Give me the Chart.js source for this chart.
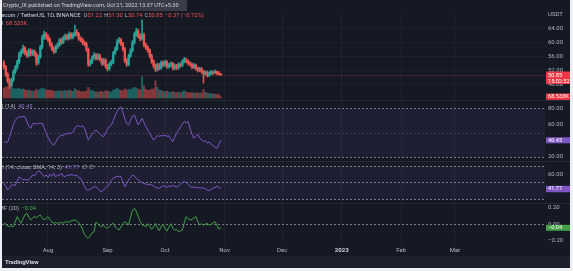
<!DOCTYPE html>
<html><head><meta charset="utf-8">
<script src="https://cdn.jsdelivr.net/npm/chart.js@4.4.0/dist/chart.umd.min.js"></script>
<style>
html,body{margin:0;padding:0;background:#eef0f3;width:573px;height:271px;overflow:hidden}
#wrap{position:absolute;left:2px;top:0;width:568px;height:268px;background:#151924;overflow:hidden}
canvas{position:absolute;left:0}
</style></head><body>
<div id="wrap">
<canvas id="c1" width="568" height="100" style="top:0"></canvas>
<canvas id="c2" width="568" height="61" style="top:100px"></canvas>
<canvas id="c3" width="568" height="42" style="top:161px"></canvas>
<canvas id="c4" width="568" height="65" style="top:203px"></canvas>
</div>
<script>
// ---------------- DATA ----------------
const symbolName = 'Litecoin / TetherUS, 1D, BINANCE';
const headerText = 'Crypto_IX published on TradingView.com, Oct 21, 2022 13:37 UTC+5:30';
const countdown = '15:02:52';
const startDate = '2022-07-09';
const timeLabels = ['Aug','Sep','Oct','Nov','Dec','2023','Feb','Mar'];
const timeTickDates = ['2022-08-01','2022-09-01','2022-10-01','2022-11-01','2022-12-01','2023-01-01','2023-02-01','2023-03-01'];
const priceTicks = [64, 60, 56, 52, 48];
const rsiTicks = [80, 60, 40, 20];
const rviTicks = [60, 40];
const cmfTicks = [0.2, 0, -0.2];
const rsiBands = [80, 50, 20];
const rviBands = [70, 50, 30];

const open = [54.3,53.2,51.0,49.2,47.9,49.5,51.8,53.0,54.6,56.8,
57.5,58.6,57.2,56.4,57.8,56.9,57.6,56.8,54.3,56.0,
58.8,61.5,62.6,61.8,61.0,59.6,58.4,57.6,58.9,59.5,
60.8,60.2,61.4,62.0,61.3,62.5,61.7,62.3,63.1,62.6,
61.2,61.0,60.1,59.8,58.2,53.9,54.6,55.8,56.6,55.7,
56.4,55.3,54.2,55.1,53.4,52.6,54.0,54.5,57.1,58.3,
60.4,60.9,59.8,58.3,55.0,53.9,56.3,57.8,60.1,62.4,
63.4,62.0,61.2,62.3,59.4,58.7,57.9,56.3,54.8,53.5,
52.4,53.8,52.9,54.4,53.8,54.6,53.2,53.7,54.1,52.8,
53.5,52.9,53.9,53.6,54.7,55.3,54.8,54.2,53.9,53.1,
53.6,52.7,52.2,52.6,51.8,51.2,51.6,50.8,51.3,51.7,
51.5,51.8,51.4,51.22];
const close = [53.2,51.0,49.2,47.9,49.5,51.8,53.0,54.6,56.8,57.5,
58.6,57.2,56.4,57.8,56.9,57.6,56.8,54.3,56.0,58.8,
61.5,62.6,61.8,61.0,59.6,58.4,57.6,58.9,59.5,60.8,
60.2,61.4,62.0,61.3,62.5,61.7,62.3,63.1,62.6,61.2,
61.0,60.1,59.8,58.2,53.9,54.6,55.8,56.6,55.7,56.4,
55.3,54.2,55.1,53.4,52.6,54.0,54.5,57.1,58.3,60.4,
60.9,59.8,58.3,55.0,53.9,56.3,57.8,60.1,62.4,63.4,
62.0,61.2,62.3,59.4,58.7,57.9,56.3,54.8,53.5,52.4,
53.8,52.9,54.4,53.8,54.6,53.2,53.7,54.1,52.8,53.5,
52.9,53.9,53.6,54.7,55.3,54.8,54.2,53.9,53.1,53.6,
52.7,52.2,52.6,51.8,51.2,51.6,50.8,51.3,51.7,51.5,
51.8,51.4,51.22,50.85];
const high = [55.0,53.6,51.5,49.8,50.0,52.3,53.6,55.1,57.4,58.2,
59.4,59.0,57.8,58.4,58.3,58.1,58.0,57.2,56.5,59.3,
62.2,63.4,63.0,62.4,61.5,60.1,58.9,59.4,60.1,61.3,
61.4,62.0,62.6,62.5,63.2,63.0,62.9,65.1,63.8,63.0,
61.8,61.4,60.6,60.2,58.6,55.2,56.3,57.2,57.0,57.0,
56.8,55.7,55.6,55.5,53.9,54.5,55.1,57.6,58.9,61.0,
61.6,61.3,60.2,58.7,55.5,56.8,58.4,60.7,63.0,64.2,
63.9,62.6,66.6,62.8,60.0,59.2,58.3,56.8,55.2,54.0,
54.3,54.2,54.9,54.8,55.1,55.0,54.2,54.6,54.5,54.0,
53.9,54.4,54.3,55.2,55.9,55.7,55.2,54.6,54.3,54.1,
54.0,53.1,53.1,53.0,52.2,52.1,52.0,51.8,52.2,52.0,
52.3,52.0,51.8,51.30];
const low = [52.6,50.4,48.6,47.1,47.4,49.0,51.2,52.5,54.0,56.1,
57.0,56.6,55.8,56.0,56.3,56.4,56.2,53.6,53.9,55.6,
58.3,61.0,61.1,60.4,59.0,57.8,57.0,57.2,58.4,59.0,
59.6,59.8,60.9,60.8,60.9,61.2,61.2,61.9,62.0,60.7,
60.4,59.5,59.2,57.6,53.3,53.4,54.1,55.3,55.1,55.2,
54.8,53.6,53.7,52.8,52.0,52.2,53.5,54.1,56.7,57.9,
59.9,59.2,57.7,54.4,53.3,53.5,55.9,57.4,59.7,61.9,
61.4,60.6,60.8,58.9,58.1,57.3,55.8,54.2,52.9,51.8,
52.0,52.3,52.5,53.2,53.3,52.7,52.8,53.2,52.3,52.4,
52.4,52.5,53.1,53.2,54.3,54.3,53.7,53.4,52.6,52.7,
52.2,51.7,51.8,51.3,48.6,50.8,50.3,50.4,50.9,51.0,
51.2,50.9,50.9,50.74];
const volume = [520,560,610,650,540,500,470,480,520,450,
470,430,390,410,380,360,370,450,400,470,
520,480,430,400,420,390,370,340,360,390,
350,380,400,360,420,380,350,480,400,380,
330,340,320,370,560,420,380,350,320,300,
330,350,310,380,360,340,300,420,450,520,
440,400,380,480,420,460,430,500,560,520,
470,420,1120,620,450,400,420,460,480,900,
560,420,400,350,330,360,300,290,340,300,
280,310,270,330,380,300,280,260,290,250,
270,260,240,280,450,300,270,240,220,200,
210,190,180,68.533];
const rsi = [38.8,37.9,38.5,45.2,52.6,59.8,64.9,68.0,69.3,68.6,
69.8,69.4,63.0,57.8,55.1,60.7,61.2,60.4,61.6,60.9,
61.3,56.0,49.5,44.1,39.6,36.2,34.7,38.3,42.6,45.1,
47.0,45.9,48.8,48.2,49.6,48.7,50.1,55.4,58.0,58.3,
56.9,58.6,55.2,48.3,40.8,44.6,48.2,51.4,53.0,50.7,
48.3,46.1,44.9,49.5,53.8,57.3,59.2,64.5,70.3,76.1,
79.4,81.6,75.2,67.3,61.0,59.2,64.8,69.7,71.4,65.3,
59.2,63.0,67.4,62.1,57.3,53.0,49.0,44.6,40.8,43.5,
46.1,45.4,46.3,45.8,46.7,45.2,46.0,42.3,38.8,44.2,
49.1,53.0,56.8,60.7,63.3,61.9,63.5,55.2,47.6,42.9,
45.8,47.8,43.1,41.4,38.8,40.2,36.9,38.5,35.5,34.1,
31.9,30.6,35.8,40.45];
const rvi = [48.7,45.1,40.6,43.3,46.5,46.9,46.2,51.6,56.8,54.7,
52.8,53.7,52.6,53.0,55.7,58.8,58.2,61.0,63.7,62.8,
59.3,56.8,58.9,55.8,59.7,57.4,60.6,56.4,59.1,58.1,
61.2,57.4,56.9,58.8,58.4,59.3,58.8,57.7,58.7,55.6,
54.7,50.1,45.1,41.1,40.6,41.5,43.0,44.4,44.6,41.7,
39.6,38.6,40.7,43.2,44.6,48.4,52.1,55.2,56.3,56.8,
57.4,56.8,50.7,44.6,48.6,52.8,55.9,58.8,57.6,54.7,
52.6,51.1,49.5,48.7,47.8,47.0,47.5,46.7,45.5,43.8,
43.1,42.6,44.3,45.9,44.7,44.0,45.7,44.7,46.2,45.1,
44.2,45.4,47.6,49.5,50.7,49.7,47.6,45.3,43.6,44.4,
43.2,44.0,42.7,43.6,42.8,41.9,40.3,39.8,41.5,43.0,
43.8,45.0,44.3,41.77];
const cmf = [0.015,0.005,-0.020,-0.026,-0.018,-0.026,0.040,0.095,0.050,0.015,
0.070,0.120,0.136,0.090,0.055,0.078,0.095,0.082,0.100,0.115,
0.080,0.055,0.072,0.095,0.060,0.030,0.018,0.025,0.010,0.028,
0.015,0.022,0.030,0.034,0.028,0.045,0.050,0.055,0.040,0.020,
-0.006,-0.060,-0.120,-0.148,-0.167,-0.140,-0.100,-0.087,0.030,0.005,
-0.015,-0.026,-0.010,-0.035,-0.046,-0.020,0.000,0.015,-0.030,-0.050,
-0.067,-0.030,0.010,0.034,0.015,-0.006,0.090,0.170,0.196,0.160,
0.095,0.040,-0.006,-0.010,-0.030,0.010,-0.020,-0.060,-0.030,0.015,
-0.040,-0.075,-0.020,0.005,-0.050,-0.080,-0.030,0.010,-0.045,-0.070,
-0.060,-0.087,-0.080,-0.067,0.020,0.095,0.070,0.055,0.060,0.080,
0.095,0.040,-0.006,0.010,-0.010,0.005,0.012,-0.008,0.003,0.020,
0.034,-0.010,-0.055,-0.040];

// ---------------- VIEW / STYLE ----------------
const FONT = 'Roboto, "Liberation Sans", Arial, sans-serif';
const AXIS_W = 25;
const X_RANGE = { min: -0.96, max: 281.9 };
const PRICE_RANGE = { min: 43.71, max: 68.857 };
const VOL_RANGE = { min: -105, max: 4505 };
const RSI_RANGE = { min: 15.1, max: 89.8 };
const RVI_RANGE = { min: 24.85, max: 75.76 };
const CMF_RANGE = { min: -0.2485, max: 0.2606 };
const UP = '#26a69a', DOWN = '#ef5350';
const PURPLE = '#7e57c2', GREEN = '#43a047', TXT = '#b2b5be';

const START_UTC = Date.parse(startDate + 'T00:00:00Z');
const tickIdx = timeTickDates.map(d => (Date.parse(d + 'T00:00:00Z') - START_UTC) / 864e5);
const last = close.length - 1;
const candleColors = close.map((c, i) => c >= open[i] ? UP : DOWN);
const volColors = close.map((c, i) => c >= open[i] ? 'rgba(38,166,154,0.5)' : 'rgba(239,83,80,0.5)');
const minus = s => s.replace('-', '\u2212');

function xScale(show) {
  return {
    type: 'linear', min: X_RANGE.min, max: X_RANGE.max, offset: false,
    grid: { display: true, color: 'rgba(255,255,255,0.045)', drawTicks: false, offset: false },
    border: { display: false },
    ticks: { display: show, autoSkip: false, maxRotation: 0, padding: 2, color: c => c.index === 5 ? '#d1d4dc' : TXT,
      font: c => ({ family: FONT, size: 6, weight: c.index === 5 ? 'bold' : 'normal' }),
      callback: (v, i) => timeLabels[i] },
    afterBuildTicks: s => { s.ticks = tickIdx.map(v => ({ value: v })); },
    afterFit: s => { s.height = show ? 11 : 0; s.paddingLeft = 0; s.paddingRight = 0; }
  };
}
function yScale(range, ticks, gridOn) {
  return {
    type: 'linear', position: 'right', min: range.min, max: range.max,
    grid: { display: gridOn, color: 'rgba(255,255,255,0.03)', drawTicks: false },
    border: { display: false },
    ticks: { padding: 3, color: TXT, font: { family: FONT, size: 6 }, callback: v => minus(v.toFixed(2)) },
    afterBuildTicks: s => { s.ticks = ticks.map(v => ({ value: v })); },
    afterFit: s => { s.width = AXIS_W; s.paddingTop = 0; s.paddingBottom = 0; }
  };
}
function baseOpts(extra) {
  return Object.assign({
    responsive: false, maintainAspectRatio: false, animation: false, devicePixelRatio: 1,
    events: [],
    plugins: { legend: { display: false }, tooltip: { enabled: false } }
  }, extra);
}
function text(ctx, s, x, y, color, size, weight) {
  ctx.font = (weight || 'normal') + ' ' + size + 'px ' + FONT;
  ctx.fillStyle = color; ctx.textBaseline = 'middle'; ctx.textAlign = 'left';
  ctx.fillText(s, x, y);
  return x + ctx.measureText(s).width;
}
function row(ctx, parts, x, y, size) {
  for (const [s, c, gap] of parts) x = text(ctx, s, x, y, c, size) + (gap || 0);
}
function hline(ctx, a, y, color, dash) {
  ctx.save(); ctx.strokeStyle = color; ctx.lineWidth = 1; ctx.setLineDash(dash);
  const yy = Math.round(y) + 0.5;
  ctx.beginPath(); ctx.moveTo(a.left, yy); ctx.lineTo(a.right, yy); ctx.stroke(); ctx.restore();
}
function tag(ctx, a, yc, h, color, lines) {
  ctx.fillStyle = color;
  ctx.fillRect(a.right + 1, yc - h / 2, 24, h);
  lines.forEach((s, k) => text(ctx, s, a.right + 3, yc + (k - (lines.length - 1) / 2) * 5.8, '#ffffff', 5.6));
}
function band(ctx, a, scale, hi, lo) {
  const y1 = scale.getPixelForValue(hi), y2 = scale.getPixelForValue(lo);
  ctx.fillStyle = 'rgba(126,87,194,0.10)';
  ctx.fillRect(a.left, y1, a.right - a.left, y2 - y1);
}
function separator(ctx) { ctx.fillStyle = '#262a35'; ctx.fillRect(0, 0, 568, 1); }
const LEG_X = -7;

// ---------------- PRICE + VOLUME ----------------
const pricePlugin = {
  id: 'pricePane',
  beforeDatasetsDraw(chart) {
    const { ctx, chartArea: a, scales: { y } } = chart;
    hline(ctx, a, y.getPixelForValue(close[last]), 'rgba(239,83,80,0.5)', [1, 1.5]);
  },
  afterDraw(chart) {
    const { ctx, chartArea: a, scales: { y, yv } } = chart;
    ctx.fillStyle = '#393c47'; ctx.fillRect(0, 0, 185, 11);
    ctx.font = '10px ' + FONT;
    const hs = 10 * 176 / ctx.measureText(headerText).width;
    text(ctx, headerText, 1, 5.5, '#d1d4dc', hs);
    const chg = close[last] - close[last - 1];
    const pct = chg / close[last - 1] * 100;
    const red = DOWN;
    row(ctx, [
      [symbolName, '#d1d4dc', 3],
      ['O', TXT], [open[last].toFixed(2), red, 2],
      ['H', TXT], [high[last].toFixed(2), red, 2],
      ['L', TXT], [low[last].toFixed(2), red, 2],
      ['C', TXT], [close[last].toFixed(2), red, 2],
      [minus(chg.toFixed(2)) + ' (' + minus(pct.toFixed(2)) + '%)', red]
    ], LEG_X, 16, 5.8);
    row(ctx, [['Vol', TXT, 2.5], [volume[last].toFixed(3) + 'K', red]], LEG_X, 24, 5.8);
    text(ctx, 'USDT', a.right + 3, 14, TXT, 6);
    const py = y.getPixelForValue(close[last]);
    ctx.fillStyle = '#f23645';
    ctx.fillRect(a.right + 1, py - 3.5, 25, 12.6);
    text(ctx, close[last].toFixed(2), a.right + 3, py + 0.8, '#ffffff', 5.6);
    text(ctx, countdown, a.right + 3, py + 6.6, '#ffffff', 5.6);
    tag(ctx, a, yv.getPixelForValue(volume[last]), 6.4, '#f23645', [volume[last].toFixed(3) + 'K']);
  }
};
new Chart(document.getElementById('c1'), {
  type: 'bar',
  data: { datasets: [
    { label: 'Volume', yAxisID: 'yv', data: volume.map((v, i) => ({ x: i, y: v })), backgroundColor: volColors, barThickness: 1.5, grouped: false, order: 3 },
    { label: 'Wick', yAxisID: 'y', data: low.map((l, i) => ({ x: i, y: [l, high[i]] })), backgroundColor: candleColors, barThickness: 0.9, grouped: false, order: 2 },
    { label: 'Body', yAxisID: 'y', data: open.map((o, i) => ({ x: i, y: [o, close[i]] })), backgroundColor: candleColors, barThickness: 1.7, minBarLength: 0.6, grouped: false, order: 1 }
  ] },
  options: baseOpts({
    layout: { padding: { top: 12, left: 0, right: 0, bottom: 0 } },
    scales: {
      x: xScale(false),
      y: yScale(PRICE_RANGE, priceTicks, true),
      yv: { type: 'linear', display: false, position: 'left', min: VOL_RANGE.min, max: VOL_RANGE.max }
    }
  }),
  plugins: [pricePlugin]
});

// ---------------- RSI ----------------
new Chart(document.getElementById('c2'), {
  type: 'line',
  data: { datasets: [{ label: 'RSI', data: rsi.map((v, i) => ({ x: i, y: v })), borderColor: PURPLE, borderWidth: 1, pointRadius: 0, tension: 0 }] },
  options: baseOpts({
    layout: { padding: 0 },
    scales: { x: xScale(false), y: yScale(RSI_RANGE, rsiTicks, false) }
  }),
  plugins: [{
    id: 'rsiPane',
    beforeDatasetsDraw(chart) {
      const { ctx, chartArea: a, scales: { y } } = chart;
      band(ctx, a, y, rsiBands[0], rsiBands[2]);
      hline(ctx, a, y.getPixelForValue(rsiBands[0]), '#787b86', [2, 2]);
      hline(ctx, a, y.getPixelForValue(rsiBands[1]), 'rgba(120,123,134,0.35)', [2, 2]);
      hline(ctx, a, y.getPixelForValue(rsiBands[2]), '#787b86', [2, 2]);
    },
    afterDraw(chart) {
      const { ctx, chartArea: a, scales: { y } } = chart;
      separator(ctx);
      row(ctx, [['RSI (14)', TXT, 2.5], [rsi[last].toFixed(2), '#9575cd']], LEG_X, 7, 5.8);
      tag(ctx, a, y.getPixelForValue(rsi[last]), 6, PURPLE, [rsi[last].toFixed(2)]);
    }
  }]
});

// ---------------- RVI ----------------
new Chart(document.getElementById('c3'), {
  type: 'line',
  data: { datasets: [{ label: 'RVI', data: rvi.map((v, i) => ({ x: i, y: v })), borderColor: PURPLE, borderWidth: 1, pointRadius: 0, tension: 0 }] },
  options: baseOpts({
    layout: { padding: 0 },
    scales: { x: xScale(false), y: yScale(RVI_RANGE, rviTicks, false) }
  }),
  plugins: [{
    id: 'rviPane',
    beforeDatasetsDraw(chart) {
      const { ctx, chartArea: a, scales: { y } } = chart;
      band(ctx, a, y, rviBands[0], rviBands[2]);
      rviBands.forEach(v => hline(ctx, a, y.getPixelForValue(v), '#787b86', [2, 2]));
    },
    afterDraw(chart) {
      const { ctx, chartArea: a, scales: { y } } = chart;
      separator(ctx);
      row(ctx, [['RVI (14, close, SMA, 14, 3)', TXT, 2.5], [rvi[last].toFixed(2), '#9575cd', 2.5], ['\u2205', TXT, 2.5], ['\u2205', TXT]], LEG_X, 7, 5.8);
      tag(ctx, a, y.getPixelForValue(rvi[last]), 6.4, PURPLE, [rvi[last].toFixed(2)]);
    }
  }]
});

// ---------------- CMF ----------------
new Chart(document.getElementById('c4'), {
  type: 'line',
  data: { datasets: [{ label: 'CMF', data: cmf.map((v, i) => ({ x: i, y: v })), borderColor: GREEN, borderWidth: 1, pointRadius: 0, tension: 0 }] },
  options: baseOpts({
    layout: { padding: { top: 0, left: 0, right: 0, bottom: 12 } },
    scales: { x: xScale(true), y: yScale(CMF_RANGE, cmfTicks, false) }
  }),
  plugins: [{
    id: 'cmfPane',
    beforeDatasetsDraw(chart) {
      const { ctx, chartArea: a, scales: { y } } = chart;
      hline(ctx, a, y.getPixelForValue(0), '#787b86', [2, 2]);
    },
    afterDraw(chart) {
      const { ctx, chartArea: a, scales: { y } } = chart;
      separator(ctx);
      row(ctx, [['CMF (20)', TXT, 2.5], [minus(cmf[last].toFixed(2)), '#4caf50']], LEG_X, 6, 5.8);
      tag(ctx, a, y.getPixelForValue(cmf[last]), 6, '#43a047', [minus(cmf[last].toFixed(2))]);
      ctx.fillStyle = '#1c202b'; ctx.fillRect(0, 53, 568, 12);
      text(ctx, 'TradingView', 3, 59, '#d1d4dc', 6, 'bold');
    }
  }]
});
</script>
</body></html>
